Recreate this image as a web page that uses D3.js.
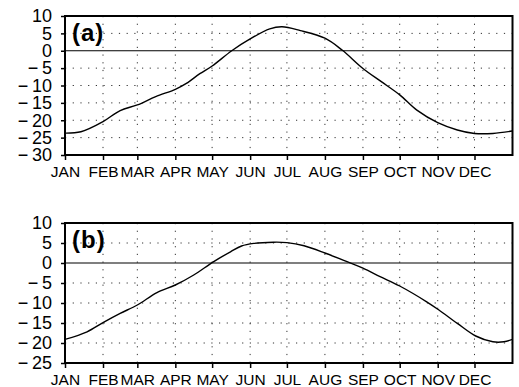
<!DOCTYPE html>
<html>
<head>
<meta charset="utf-8">
<script src="https://cdn.jsdelivr.net/npm/d3@7"></script>
<style>
body { margin: 0; background: #fff; }
svg { display: block; font-family: "Liberation Sans", Arial, sans-serif; }
</style>
</head>
<body>
<svg id="canvas" width="519" height="387"></svg>
<script>
var months = ['JAN', 'FEB', 'MAR', 'APR', 'MAY', 'JUN', 'JUL', 'AUG', 'SEP', 'OCT', 'NOV', 'DEC'];
var monthStart = [0, 31, 59, 90, 120, 151, 181, 212, 243, 273, 304, 334];

// panel (a)
var daysA = [0, 13, 31, 45, 59, 74, 90, 99, 110, 120, 136, 151, 167, 177, 192, 212, 226, 243, 258, 273, 287, 304, 320, 334, 349, 365];
var valuesA = [-23.7, -23.3, -20.4, -17.2, -15.6, -13.2, -11.1, -9.4, -6.6, -4.4, 0, 3.4, 6.3, 6.9, 5.8, 3.6, 0.2, -5.1, -8.9, -12.7, -17.1, -20.7, -22.8, -23.8, -23.8, -23.1];

// panel (b)
var daysB = [0, 18, 31, 45, 59, 75, 90, 105, 121, 135, 144, 154, 170, 181, 195, 212, 231, 243, 257, 273, 295, 305, 320, 335, 349, 358, 365];
var valuesB = [-19.1, -17.2, -14.9, -12.6, -10.5, -7.4, -5.5, -3.0, 0.3, 2.8, 4.25, 4.9, 5.2, 5.1, 4.3, 2.5, 0.2, -1.3, -3.4, -5.75, -9.7, -11.75, -15.1, -18.25, -19.7, -19.7, -19.1];

var panels = [
    { label: '(a)', days: daysA, values: valuesA, domain: [-30, 10], top: 16, bottom: 155 },
    { label: '(b)', days: daysB, values: valuesB, domain: [-25, 10], top: 223, bottom: 363 }
];

var svg = d3.select('#canvas');
var left = 65, right = 512.5;

var x = d3.scaleLinear().domain([0, 365]).range([left, right]);

function fmt(d) {
    return d < 0 ? '\u2212\u2009' + (-d) : String(d);
}

panels.forEach(function(p) {
    var y = d3.scaleLinear().domain(p.domain).range([p.bottom, p.top]);
    var g = svg.append('g');
    var yTicks = d3.range(p.domain[0], p.domain[1] + 1, 5);

    // dotted grid
    g.selectAll('line.hg')
        .data(yTicks.filter(function(d) { return d !== 0 && d !== p.domain[0] && d !== p.domain[1]; }))
        .enter().append('line')
        .attr('x1', left).attr('x2', right)
        .attr('y1', function(d) { return y(d); })
        .attr('y2', function(d) { return y(d); })
        .attr('stroke', '#333').attr('stroke-width', 1)
        .attr('stroke-dasharray', '1.2,6.5');

    g.selectAll('line.vg')
        .data(monthStart.slice(1))
        .enter().append('line')
        .attr('x1', function(d) { return x(d); })
        .attr('x2', function(d) { return x(d); })
        .attr('y1', p.top).attr('y2', p.bottom)
        .attr('stroke', '#333').attr('stroke-width', 1)
        .attr('stroke-dasharray', '1.2,6.5');

    // zero line
    g.append('line')
        .attr('x1', left).attr('x2', right)
        .attr('y1', y(0)).attr('y2', y(0))
        .attr('stroke', '#000').attr('stroke-width', 1.1);

    // axes
    var xAxis = d3.axisBottom(x)
        .tickValues(monthStart)
        .tickFormat(function(d, i) { return months[i]; })
        .tickSize(5).tickPadding(6);
    var ax = g.append('g')
        .attr('transform', 'translate(0,' + p.bottom + ')')
        .call(xAxis);

    var yAxis = d3.axisLeft(y)
        .tickValues(yTicks)
        .tickFormat(fmt)
        .tickSize(4).tickPadding(9);
    var ay = g.append('g')
        .attr('transform', 'translate(' + left + ',0)')
        .call(yAxis);

    [ax, ay].forEach(function(a) {
        a.select('.domain').remove();
        a.selectAll('line').attr('stroke', '#000').attr('stroke-width', 1.5);
        a.selectAll('text').attr('fill', '#000').attr('font-family', '"Liberation Sans", Arial, sans-serif');
    });
    ax.selectAll('text').attr('font-size', 15.5);
    ay.selectAll('text').attr('font-size', 18);

    // frame
    g.append('rect')
        .attr('x', left).attr('y', p.top)
        .attr('width', right - left).attr('height', p.bottom - p.top)
        .attr('fill', 'none').attr('stroke', '#000').attr('stroke-width', 2);

    // curve
    var line = d3.line()
        .x(function(d) { return x(d[0]); })
        .y(function(d) { return y(d[1]); })
        .curve(d3.curveCatmullRom.alpha(0.5));
    g.append('path')
        .datum(d3.zip(p.days, p.values))
        .attr('d', line)
        .attr('fill', 'none').attr('stroke', '#000').attr('stroke-width', 1.4);

    // panel label
    g.append('text')
        .attr('x', 72).attr('y', p.top + 25)
        .attr('font-size', 24).attr('font-weight', 'bold')
        .attr('letter-spacing', 1)
        .text(p.label);
});
</script>
</body>
</html>
